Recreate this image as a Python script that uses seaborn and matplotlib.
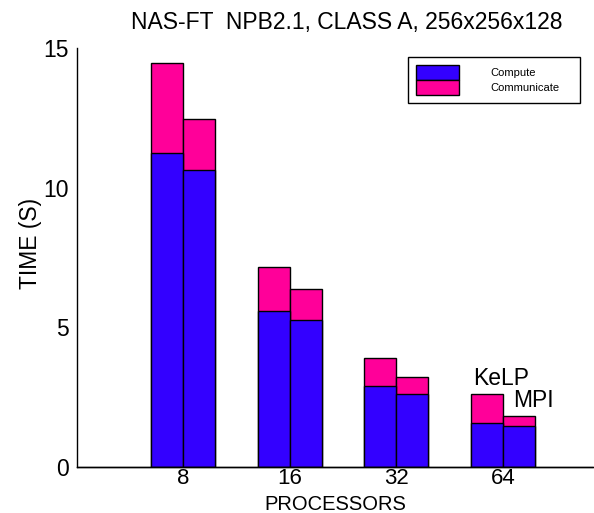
import matplotlib
matplotlib.use("Agg")
import matplotlib.pyplot as plt
import seaborn as sns
import pandas as pd
from matplotlib.patches import Patch

processors = ["8", "16", "32", "64"]
impls = ["KeLP", "MPI"]
kelp_compute = [11.25, 5.6, 2.9, 1.58]
kelp_total = [14.46, 7.17, 3.9, 2.6]
mpi_compute = [10.62, 5.26, 2.62, 1.47]
mpi_total = [12.46, 6.37, 3.22, 1.83]

rows = []
for i, p in enumerate(processors):
    rows.append(dict(procs=p, impl="KeLP", compute=kelp_compute[i], total=kelp_total[i]))
    rows.append(dict(procs=p, impl="MPI", compute=mpi_compute[i], total=mpi_total[i]))
df = pd.DataFrame(rows)

sns.set_style("white")
plt.rcParams["font.family"] = ["Liberation Sans", "DejaVu Sans"]
plt.rcParams["text.color"] = "black"
plt.rcParams["axes.labelcolor"] = "black"
plt.rcParams["xtick.color"] = "black"
plt.rcParams["ytick.color"] = "black"

BLUE = "#3300FF"
PINK = "#FF0099"

fig = plt.figure(figsize=(5.94, 5.13), dpi=100)
ax = fig.add_axes([77/594, 1-467/513, (593-77)/594, (467-48)/513])

sns.barplot(data=df, x="procs", y="total", hue="impl", order=processors, hue_order=impls,
            palette=[PINK, PINK], width=0.6, gap=0, edgecolor="black", linewidth=1,
            legend=False, ax=ax, errorbar=None, saturation=1)
sns.barplot(data=df, x="procs", y="compute", hue="impl", order=processors, hue_order=impls,
            palette=[BLUE, BLUE], width=0.6, gap=0, edgecolor="black", linewidth=1,
            legend=False, ax=ax, errorbar=None, saturation=1)

ax.set_autoscale_on(False)
ax.set_xlim(-0.99, 3.84)
ax.set_ylim(0, 15)
ax.set_yticks([0, 5, 10, 15])
ax.tick_params(axis="y", direction="in", length=5, labelsize=16.5, pad=6, width=1, colors="black")
ax.tick_params(axis="x", length=0, labelsize=16, pad=0.5, colors="black")
for s in ["top", "right"]:
    ax.spines[s].set_visible(False)
for s in ["left", "bottom"]:
    ax.spines[s].set_color("black")
    ax.spines[s].set_linewidth(1)
ax.axhline(0, color="black", linewidth=1, clip_on=False, zorder=5)

ax.set_xlabel("PROCESSORS", fontsize=14.5, color="black", va="baseline")
ax.xaxis.set_label_coords(0.5, (467-509.5)/419)
ax.set_ylabel("TIME (S)", fontsize=16.5, color="black")
ax.yaxis.set_label_coords((42-77)/516, (467-243)/419)
fig.text(347/594, 1-22/513, "NAS-FT  NPB2.1, CLASS A, 256x256x128", ha="center", va="center",
         fontsize=16.5, color="black")

ax.text(2.72, 2.95, "KeLP", fontsize=16.5, ha="left", va="baseline", color="black")
ax.text(3.09, 2.15, "MPI", fontsize=16.5, ha="left", va="baseline", color="black")

handles = [Patch(facecolor=BLUE, edgecolor="black", linewidth=1),
           Patch(facecolor=PINK, edgecolor="black", linewidth=1)]
leg = ax.legend(handles, ["Compute", "Communicate"], loc="upper left",
                bbox_to_anchor=(0.641, 0.869, 0.334, 0.11), mode="expand",
                fontsize=8, handlelength=3.9, handleheight=1.7, labelspacing=0,
                borderpad=0.75, handletextpad=2.8, fancybox=False, framealpha=1,
                edgecolor="black", borderaxespad=0)
leg.get_frame().set_linewidth(1)
for t in leg.get_texts():
    t.set_color("black")

fig.savefig("out.png", dpi=100)
